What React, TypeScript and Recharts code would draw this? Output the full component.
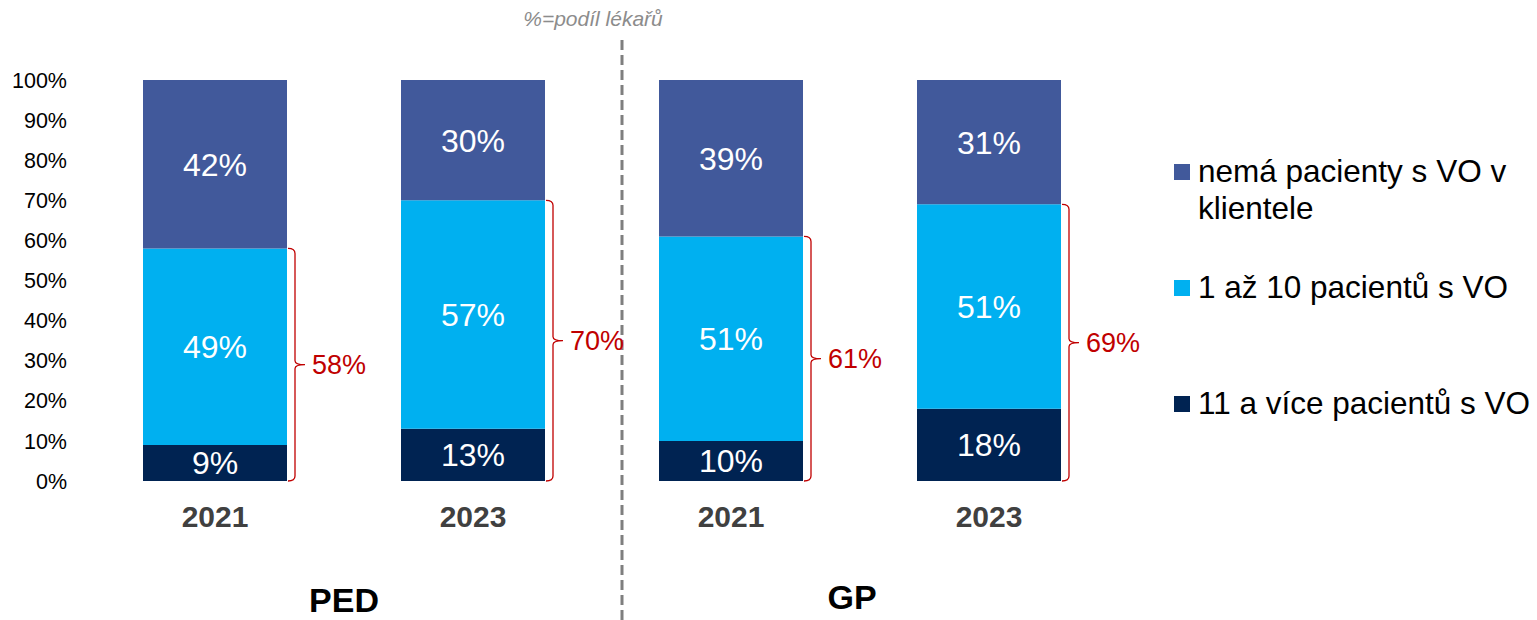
import { BarChart, Bar, XAxis, YAxis, LabelList } from "recharts";

const years = ["2021", "2023", "2021", "2023"];
const groups = ["PED", "PED", "GP", "GP"];
const many = [9, 13, 10, 18]; // 11 a více pacientů s VO
const few = [49, 57, 51, 51]; // 1 až 10 pacientů s VO
const none = [42, 30, 39, 31]; // nemá pacienty s VO v klientele
const yTicks = [0, 10, 20, 30, 40, 50, 60, 70, 80, 90, 100];

const seriesNames = [
  ["nemá pacienty s VO v", "klientele"],
  ["1 až 10 pacientů s VO"],
  ["11 a více pacientů s VO"]
];

const C_NONE = "#41599B";
const C_FEW = "#00B0F0";
const C_MANY = "#002352";
const RED = "#C00000";
const FONT = "Liberation Sans, Arial, sans-serif";

const data = years.map((y, i) => ({
  key: `${groups[i]}-${y}`,
  year: y,
  many: many[i],
  few: few[i],
  none: none[i]
}));

const pct = (v: any) => `${v}%`;

// curly bracket to the right of the two lower segments
function Bracket(props: any) {
  const { x, y, width, height, index } = props;
  if (height == null || !few[index]) return null;
  const perUnit = height / few[index];
  const top = y;
  const bottom = y + height + many[index] * perUnit;
  const mid = (top + bottom) / 2;
  const xr = x + width;
  const bx = xr + 8;
  const d = `M ${xr + 1} ${top} Q ${bx} ${top} ${bx} ${top + 5} L ${bx} ${mid - 4} Q ${bx} ${mid} ${bx + 10} ${mid} Q ${bx} ${mid} ${bx} ${mid + 4} L ${bx} ${bottom - 5} Q ${bx} ${bottom} ${xr + 1} ${bottom}`;
  return (
    <g>
      <path d={d} fill="none" stroke={RED} strokeWidth={1.3} />
      <text
        x={bx + 17}
        y={mid}
        fill={RED}
        fontSize={27}
        fontFamily={FONT}
        dominantBaseline="central"
      >
        {many[index] + few[index]}%
      </text>
    </g>
  );
}

function LegendBlock() {
  const colors = [C_NONE, C_FEW, C_MANY];
  const rows = [182, 298, 414];
  return (
    <g fontFamily={FONT} fontSize={31.5} fill="#000">
      {seriesNames.map((lines, i) => (
        <g key={i}>
          <rect x={1174} y={rows[i] - 18} width={16} height={16} fill={colors[i]} />
          {lines.map((t, j) => (
            <text key={j} x={1198} y={rows[i] + j * 37}>
              {t}
            </text>
          ))}
        </g>
      ))}
    </g>
  );
}

export default function App() {
  return (
    <div style={{ position: "absolute", left: 0, top: 0, background: "#fff" }}>
      <BarChart
        width={1537}
        height={620}
        data={data}
        margin={{ top: 80, right: 419, bottom: 79, left: 16 }}
        barSize={144}
      >
        <XAxis
          dataKey="key"
          tickFormatter={(_v, i) => years[i]}
          axisLine={false}
          tickLine={false}
          tickSize={0}
          tickMargin={25}
          height={60}
          interval={0}
          tick={{ fill: "#404040", fontSize: 30, fontWeight: 700, fontFamily: FONT }}
        />
        <YAxis
          domain={[0, 100]}
          ticks={yTicks}
          tickFormatter={pct}
          axisLine={false}
          tickLine={false}
          tickSize={0}
          tickMargin={19}
          width={70}
          tick={{ fill: "#000", fontSize: 21.5, fontFamily: FONT }}
        />
        <Bar dataKey="many" stackId="a" fill={C_MANY} isAnimationActive={false}>
          <LabelList dataKey="many" position="center" formatter={pct} fill="#fff" fontSize={32} fontFamily={FONT} />
        </Bar>
        <Bar dataKey="few" stackId="a" fill={C_FEW} isAnimationActive={false}>
          <LabelList dataKey="few" position="center" formatter={pct} fill="#fff" fontSize={32} fontFamily={FONT} />
          <LabelList dataKey="few" content={<Bracket />} />
        </Bar>
        <Bar dataKey="none" stackId="a" fill={C_NONE} isAnimationActive={false}>
          <LabelList dataKey="none" position="center" formatter={pct} fill="#fff" fontSize={32} fontFamily={FONT} />
        </Bar>
        <line x1={622} y1={40} x2={622} y2={620} stroke="#7F7F7F" strokeWidth={3} strokeDasharray="10 5" />
        <text x={593} y={18} textAnchor="middle" dominantBaseline="central" fontSize={21} fontStyle="italic" fill="#8C8C8C" fontFamily={FONT}>
          %=podíl lékařů
        </text>
        <text x={344} y={612} textAnchor="middle" fontSize={34} fontWeight={700} fill="#000" fontFamily={FONT}>
          PED
        </text>
        <text x={852} y={609} textAnchor="middle" fontSize={34} fontWeight={700} fill="#000" fontFamily={FONT}>
          GP
        </text>
        <LegendBlock />
      </BarChart>
    </div>
  );
}
